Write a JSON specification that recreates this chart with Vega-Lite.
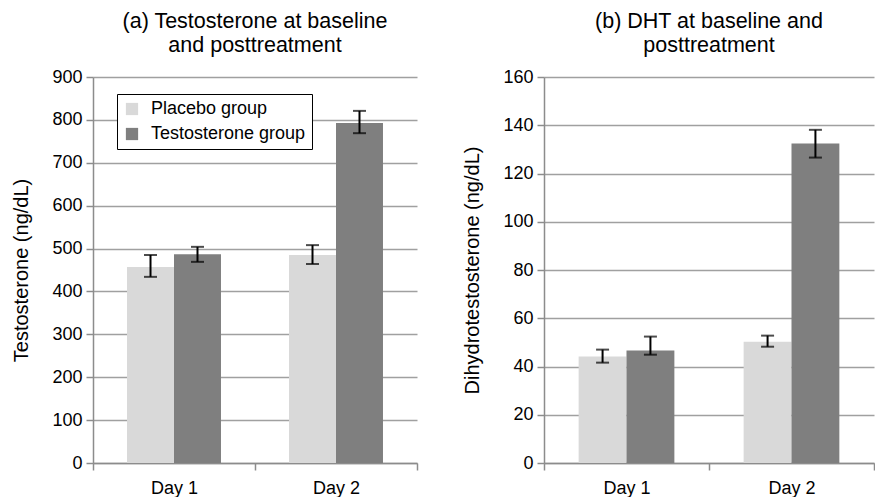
{
  "$schema": "https://vega.github.io/schema/vega-lite/v6.json",
  "padding": {"left": 11, "top": 10, "right": 0, "bottom": 0},
  "config": {
    "font": "Liberation Sans",
    "view": {"stroke": null},
    "axis": {
      "domainColor": "#8c8c8c", "tickColor": "#8c8c8c", "gridColor": "#a0a0a0",
      "gridWidth": 1.5, "domainWidth": 1.5, "tickWidth": 1.5, "gridOpacity": 1,
      "labelColor": "#000", "titleColor": "#000", "labelFontSize": 18,
      "titleFontSize": 20, "titleFontWeight": "normal"
    },
    "title": {"fontSize": 21.5, "fontWeight": "normal", "lineHeight": 24, "offset": 12, "color": "#000"}
  },
  "spacing": 44,
  "datasets": {
    "a": [
      {"day": "Day 1", "group": "Placebo group", "value": 457, "lo": 434, "hi": 485},
      {"day": "Day 1", "group": "Testosterone group", "value": 487, "lo": 469, "hi": 504},
      {"day": "Day 2", "group": "Placebo group", "value": 485, "lo": 464, "hi": 508},
      {"day": "Day 2", "group": "Testosterone group", "value": 793, "lo": 769, "hi": 821}
    ],
    "b": [
      {"day": "Day 1", "group": "Placebo group", "value": 44.1, "lo": 41.6, "hi": 47.0},
      {"day": "Day 1", "group": "Testosterone group", "value": 46.6, "lo": 44.9, "hi": 52.4},
      {"day": "Day 2", "group": "Placebo group", "value": 50.3, "lo": 48.2, "hi": 52.8},
      {"day": "Day 2", "group": "Testosterone group", "value": 132.4, "lo": 126.6, "hi": 138.1}
    ]
  },
  "hconcat": [
    {
      "width": 324, "height": 386,
      "title": {"text": ["(a) Testosterone at baseline", "and posttreatment"]},
      "data": {"name": "a"},
      "encoding": {
        "x": {"field": "day", "type": "nominal", "scale": {"paddingInner": 0, "paddingOuter": 0},
              "axis": {"title": null, "labelAngle": 0, "tickBand": "extent", "tickSize": 7, "labelPadding": 9, "grid": false}},
        "xOffset": {"field": "group", "type": "nominal", "scale": {"domain": ["Placebo group", "Testosterone group"], "paddingInner": 0, "paddingOuter": 0.724}}
      },
      "layer": [
        {"mark": {"type": "bar"},
         "encoding": {
           "y": {"field": "value", "type": "quantitative", "scale": {"domain": [0, 900], "nice": false},
                 "axis": {"title": "Testosterone (ng/dL)", "values": [0,100,200,300,400,500,600,700,800,900], "tickSize": 7, "labelPadding": 4, "titlePadding": 20, "grid": true}},
           "color": {"field": "group", "type": "nominal",
                     "scale": {"domain": ["Placebo group", "Testosterone group"], "range": ["#d9d9d9", "#7f7f7f"]},
                     "legend": {"title": null, "orient": "none", "legendX": 24, "legendY": 17, "strokeColor": "#000", "fillColor": "#fff",
                                "padding": 6, "symbolType": "square", "symbolSize": 150, "symbolStrokeWidth": 0, "labelFontSize": 18, "rowPadding": 7, "labelOffset": 10}}
         }},
        {"mark": {"type": "rule", "color": "#000", "strokeWidth": 2},
         "encoding": {"y": {"field": "lo", "type": "quantitative",
                 "axis": {"title": "Testosterone (ng/dL)", "values": [0,100,200,300,400,500,600,700,800,900], "tickSize": 7, "labelPadding": 4, "titlePadding": 20, "grid": true}}, "y2": {"field": "hi"}}},
        {"mark": {"type": "tick", "color": "#000", "thickness": 2, "size": 13},
         "encoding": {"y": {"field": "lo", "type": "quantitative",
                 "axis": {"title": "Testosterone (ng/dL)", "values": [0,100,200,300,400,500,600,700,800,900], "tickSize": 7, "labelPadding": 4, "titlePadding": 20, "grid": true}}}},
        {"mark": {"type": "tick", "color": "#000", "thickness": 2, "size": 13},
         "encoding": {"y": {"field": "hi", "type": "quantitative",
                 "axis": {"title": "Testosterone (ng/dL)", "values": [0,100,200,300,400,500,600,700,800,900], "tickSize": 7, "labelPadding": 4, "titlePadding": 20, "grid": true}}}}
      ]
    },
    {
      "width": 330, "height": 386,
      "title": {"text": ["(b) DHT at baseline and", "posttreatment"]},
      "data": {"name": "b"},
      "encoding": {
        "x": {"field": "day", "type": "nominal", "scale": {"paddingInner": 0, "paddingOuter": 0},
              "axis": {"title": null, "labelAngle": 0, "tickBand": "extent", "tickSize": 7, "labelPadding": 9, "grid": false}},
        "xOffset": {"field": "group", "type": "nominal", "scale": {"domain": ["Placebo group", "Testosterone group"], "paddingInner": 0, "paddingOuter": 0.724}}
      },
      "layer": [
        {"mark": {"type": "bar"},
         "encoding": {
           "y": {"field": "value", "type": "quantitative", "scale": {"domain": [0, 160], "nice": false},
                 "axis": {"title": "Dihydrotestosterone (ng/dL)", "values": [0,20,40,60,80,100,120,140,160], "tickSize": 7, "labelPadding": 4, "titlePadding": 20, "grid": true}},
           "color": {"field": "group", "type": "nominal",
                     "scale": {"domain": ["Placebo group", "Testosterone group"], "range": ["#d9d9d9", "#7f7f7f"]},
                     "legend": null}
         }},
        {"mark": {"type": "rule", "color": "#000", "strokeWidth": 2},
         "encoding": {"y": {"field": "lo", "type": "quantitative",
                 "axis": {"title": "Dihydrotestosterone (ng/dL)", "values": [0,20,40,60,80,100,120,140,160], "tickSize": 7, "labelPadding": 4, "titlePadding": 20, "grid": true}}, "y2": {"field": "hi"}}},
        {"mark": {"type": "tick", "color": "#000", "thickness": 2, "size": 13},
         "encoding": {"y": {"field": "lo", "type": "quantitative",
                 "axis": {"title": "Dihydrotestosterone (ng/dL)", "values": [0,20,40,60,80,100,120,140,160], "tickSize": 7, "labelPadding": 4, "titlePadding": 20, "grid": true}}}},
        {"mark": {"type": "tick", "color": "#000", "thickness": 2, "size": 13},
         "encoding": {"y": {"field": "hi", "type": "quantitative",
                 "axis": {"title": "Dihydrotestosterone (ng/dL)", "values": [0,20,40,60,80,100,120,140,160], "tickSize": 7, "labelPadding": 4, "titlePadding": 20, "grid": true}}}}
      ]
    }
  ],
  "resolve": {"scale": {"x": "independent", "y": "independent", "xOffset": "independent", "color": "independent"}, "legend": {"color": "independent"}}
}
